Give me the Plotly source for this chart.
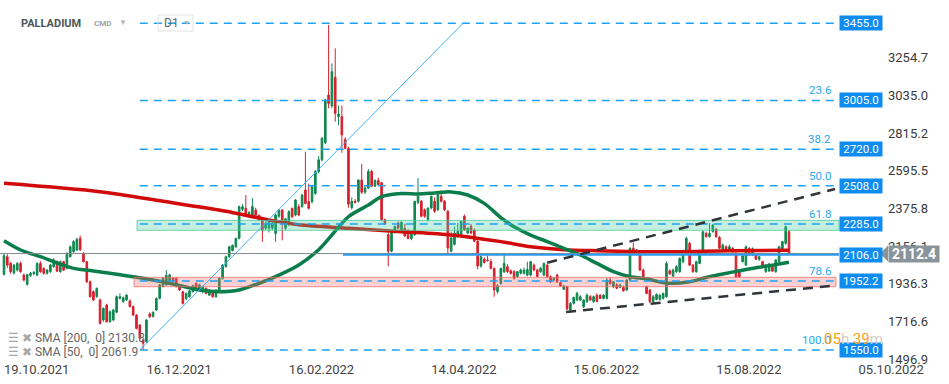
import plotly.graph_objects as go

# ---------------- data ----------------
opens = [1991,2094,2055,2000,2016,2055,1987,1933,1985,1995,
         1987,2055,2026,1997,2007,2036,2065,2007,2065,2026,
         2094,2123,2133,2201,2114,2065,1948,1890,1861,1842,
         1725,1812,1715,1725,1770,1850,1832,1842,1836,1803,
         1754,1696,1608,1598,1760,1745,1783,1851,1920,1930,
         1940,1968,1968,1930,1890,1850,1860,1890,1938,1900,
         1890,1910,1870,1890,1860,1890,1968,2036,2094,2130,
         2152,2201,2370,2376,2345,2336,2366,2336,2308,2260,
         2260,2260,2230,2330,2366,2260,2280,2376,2337,2386,
         2386,2483,2415,2415,2463,2590,2659,2759,3037,2973,
         3140,2911,2911,2778,2726,2380,2417,2417,2541,2470,
         2494,2591,2505,2538,2525,2310,2223,2126,2240,2290,
         2250,2260,2230,2200,2223,2410,2417,2368,2310,2378,
         2417,2368,2446,2417,2359,2126,2165,2213,2223,2330,
         2232,2271,2250,2184,2040,2080,2075,2065,2026,1890,
         1938,2005,2036,2012,2007,1978,1997,1997,1987,1987,
         2045,2016,2007,1987,2045,1978,1958,1987,1943,1904,
         1919,1783,1822,1841,1841,1802,1832,1861,1832,1870,
         1870,1851,1851,1958,1919,1929,1915,1915,1900,1958,
         2143,2124,2124,2016,1919,1900,1832,1845,1845,1851,
         1861,2012,1981,2007,2007,2065,2117,2172,2045,2007,
         2055,2123,2230,2211,2240,2253,2207,2137,2152,2137,
         2143,2113,2007,2065,2045,2143,2104,2104,2079,2065,
         2007,2010,2040,2007,2065,2133,2172,2240]
highs = [2110,2108,2065,2052,2062,2066,1995,1995,2005,2010,
         2062,2068,2032,2022,2052,2085,2072,2072,2070,2120,
         2160,2190,2205,2217,2120,2070,1955,1898,1915,1850,
         1798,1820,1780,1790,1868,1880,1862,1876,1845,1810,
         1760,1700,1615,1730,1770,1775,1856,1935,1975,2016,
         1995,1975,1972,1935,1895,1885,1900,1930,1945,1935,
         1925,1915,1905,1895,1905,1975,2050,2100,2158,2165,
         2205,2392,2400,2454,2360,2435,2380,2340,2312,2300,
         2305,2300,2345,2370,2372,2320,2365,2380,2430,2400,
         2460,2706,2520,2510,2600,2680,2790,3015,3445,3221,
         3309,2975,2975,2790,2735,2440,2430,2545,2634,2510,
         2605,2600,2545,2555,2530,2315,2235,2250,2275,2300,
         2300,2285,2255,2240,2420,2552,2425,2375,2380,2450,
         2440,2470,2480,2425,2365,2240,2270,2290,2305,2340,
         2262,2285,2258,2190,2100,2090,2100,2080,2030,1935,
         2030,2113,2050,2020,2015,2010,2025,2030,2065,2070,
         2055,2025,2035,2060,2052,1985,1975,1995,1950,1930,
         1925,1830,1860,1890,1870,1845,1880,1870,1868,1880,
         1875,1875,1970,1975,1950,1940,1935,1925,1965,2150,
         2176,2140,2130,2025,1925,1905,1870,1880,1875,1885,
         2065,2020,2025,2045,2090,2130,2210,2180,2050,2070,
         2130,2245,2240,2289,2285,2262,2215,2170,2160,2165,
         2150,2120,2015,2105,2160,2150,2148,2110,2098,2070,
         2050,2058,2048,2080,2158,2185,2275,2250]
lows = [1985,2030,1995,1990,2008,2000,1950,1925,1975,1985,
        1980,2000,1990,1990,2000,2030,2005,2000,2010,2020,
        2090,2118,2128,2128,2060,1940,1855,1835,1855,1699,
        1715,1710,1708,1720,1765,1845,1825,1836,1798,1748,
        1670,1612,1550,1592,1735,1740,1778,1845,1915,1925,
        1935,1940,1915,1895,1815,1840,1855,1885,1895,1895,
        1880,1875,1865,1855,1855,1885,1960,2030,2088,2125,
        2145,2195,2360,2340,2335,2330,2330,2305,2181,2250,
        2235,2250,2181,2320,2190,2250,2275,2320,2330,2330,
        2380,2400,2370,2405,2455,2580,2650,2750,2960,2960,
        2881,2860,2700,2720,2380,2370,2405,2410,2460,2460,
        2490,2500,2500,2510,2300,2280,2038,2120,2230,2255,
        2240,2210,2195,2190,2215,2400,2325,2320,2300,2370,
        2350,2360,2410,2360,2110,2120,2160,2205,2215,2245,
        2225,2225,2180,2020,2030,2055,2065,2020,1861,1880,
        1930,2000,2000,1990,1960,1970,1990,1990,1980,1980,
        2010,1975,2000,1980,1970,1940,1950,1940,1920,1900,
        1783,1775,1815,1835,1835,1795,1825,1840,1825,1830,
        1850,1845,1845,1930,1910,1905,1910,1890,1895,1950,
        2120,2115,2010,1975,1875,1822,1825,1840,1838,1845,
        1855,1990,1975,2000,2000,2055,2110,2040,2000,2000,
        2050,2118,2205,2205,2235,2205,2140,2130,2128,2130,
        2118,1970,1970,2060,2040,2100,2100,2075,2070,2030,
        2000,2005,2005,2000,2060,2128,2165,2105]
closes = [2100,2045,2007,2045,2055,2007,1958,1990,1997,2003,
          2055,2007,1997,2016,2045,2075,2010,2065,2016,2114,
          2152,2182,2195,2135,2065,1948,1861,1842,1909,1705,
          1793,1715,1773,1783,1861,1861,1855,1870,1803,1754,
          1676,1618,1589,1725,1745,1770,1851,1929,1968,1985,
          1988,1950,1920,1900,1822,1880,1895,1925,1900,1930,
          1920,1880,1900,1860,1900,1968,2046,2094,2152,2160,
          2201,2386,2386,2345,2352,2386,2336,2308,2250,2290,
          2300,2290,2337,2365,2308,2315,2356,2327,2425,2337,
          2454,2405,2376,2502,2590,2659,2785,3008,2988,3173,
          2930,2926,2804,2726,2400,2417,2410,2541,2470,2495,
          2591,2505,2538,2515,2310,2285,2126,2240,2270,2260,
          2295,2215,2200,2232,2417,2446,2330,2330,2378,2446,
          2359,2456,2417,2368,2145,2203,2232,2242,2300,2252,
          2261,2232,2184,2040,2094,2060,2072,2026,1900,1925,
          2026,2055,2007,1997,1968,2007,2016,2016,2020,2065,
          2016,1978,2026,2055,1978,1948,1968,1948,1923,1923,
          1790,1822,1857,1880,1861,1841,1870,1841,1861,1832,
          1851,1870,1958,1938,1948,1910,1929,1895,1958,2143,
          2133,2133,2016,1978,1880,1832,1861,1874,1870,1880,
          2055,1993,2016,2036,2084,2123,2201,2045,2007,2065,
          2123,2240,2211,2230,2279,2211,2143,2162,2133,2152,
          2123,1977,1977,2098,2152,2104,2140,2079,2094,2036,
          2045,2052,2010,2075,2152,2182,2269,2112.4]

sma200_idx = [0, 29, 48, 67, 77, 89, 104, 120, 135, 150, 159, 169, 179, 199, 219, 237]
sma200_val = [2522, 2473, 2417, 2359, 2320, 2280, 2260, 2240, 2221, 2182, 2152, 2135, 2129, 2123, 2129, 2131]
sma50_idx = [0, 5, 11, 17, 21, 26, 32, 39, 49, 59, 65, 71, 77, 83, 89, 95, 104, 110, 114, 120,
             125, 130, 135, 140, 145, 150, 154, 159, 164, 169, 174, 179, 184, 189, 194, 200, 207,
             212, 217, 222, 227, 232, 237]
sma50_val = [2187, 2133, 2094, 2051, 2026, 2013, 1997, 1977, 1943, 1900, 1890, 1900, 1939, 1987,
             2046, 2135, 2327, 2395, 2444, 2463, 2460, 2466, 2472, 2454, 2405, 2322, 2269, 2220,
             2182, 2143, 2104, 2055, 2007, 1977, 1965, 1940, 1948, 1973, 1993, 2012, 2030, 2045, 2062]

x_tick_idx = [0, 43, 86, 129, 172, 215, 258]
x_tick_text = ["19.10.2021", "16.12.2021", "16.02.2022", "14.04.2022", "15.06.2022", "15.08.2022", "05.10.2022"]
y_tick_vals = [3254.7, 3035.0, 2815.2, 2595.5, 2375.8, 2156.1, 1936.3, 1716.6, 1496.9]

fib_levels = [3455.0, 3005.0, 2720.0, 2508.0, 2285.0, 1952.2, 1550.0]
fib_labels = ["", "23.6", "38.2", "50.0", "61.8", "78.6", "100.0"]
fib_start_bar = 41
fib_diag_end_bar = 138.6

zone_green = (2248, 2306)
zone_red = (1919, 1974)
last_price = 2112.4
level_blue = 2106.0
trend_upper = [(164, 2059), (250.9, 2489)]
trend_lower = [(169.7, 1772), (249.4, 1923)]
sma200_last = 2130.8
sma50_last = 2061.9

# ---------------- layout helpers ----------------
W, H = 949, 384
PLOT_BOTTOM = 360
PX_PER_BAR = 785 / 237
X0 = -4 / PX_PER_BAR
X1 = X0 + W / PX_PER_BAR
Y_TOP = 3455 + 23.3 / 0.1715
Y_BOT = 3455 - (PLOT_BOTTOM - 23.3) / 0.1715


def bx(px):
    return X0 + px / PX_PER_BAR


def pxp(x):
    return x / W


def pyp(y):
    return 1 - y / PLOT_BOTTOM


XR = bx(839)
FONT = "Roboto, Arial, sans-serif"

fig = go.Figure()
fig.add_trace(go.Candlestick(
    x=list(range(len(opens))), open=opens, high=highs, low=lows, close=closes,
    increasing=dict(line=dict(color="#10874f", width=1), fillcolor="#10874f"),
    decreasing=dict(line=dict(color="#d6202d", width=1), fillcolor="#d6202d"),
    whiskerwidth=0, hoverinfo="skip", showlegend=False))
fig.add_trace(go.Scatter(x=sma200_idx, y=sma200_val, mode="lines",
                         line=dict(color="#d10a0a", width=3.5, shape="spline", smoothing=0.8),
                         hoverinfo="skip", showlegend=False))
fig.add_trace(go.Scatter(x=sma50_idx, y=sma50_val, mode="lines",
                         line=dict(color="#0b7d4b", width=3.5, shape="spline", smoothing=0.8),
                         hoverinfo="skip", showlegend=False))

shapes = []
# zones
shapes.append(dict(type="rect", xref="x", yref="y", x0=bx(137), x1=XR, y0=zone_green[0], y1=zone_green[1],
                   fillcolor="rgba(70,205,160,0.32)", line=dict(color="rgba(70,200,150,0.75)", width=1), layer="above"))
shapes.append(dict(type="rect", xref="x", yref="y", x0=bx(134), x1=bx(836), y0=zone_red[0], y1=zone_red[1],
                   fillcolor="rgba(240,110,110,0.32)", line=dict(color="rgba(235,110,110,0.75)", width=1), layer="above"))
# current price line and blue level
shapes.append(dict(type="line", xref="x", yref="y", x0=X0, x1=XR, y0=last_price, y1=last_price,
                   line=dict(color="#7f8a90", width=1), layer="above"))
shapes.append(dict(type="line", xref="x", yref="y", x0=bx(343), x1=XR, y0=level_blue, y1=level_blue,
                   line=dict(color="#2b9af3", width=2), layer="above"))
# fib levels
for lvl in fib_levels:
    shapes.append(dict(type="line", xref="x", yref="y", x0=fib_start_bar, x1=XR, y0=lvl, y1=lvl,
                       line=dict(color="#1ea1f2", width=1.5, dash="8px,6px"), layer="above"))
# fib diagonal
shapes.append(dict(type="line", xref="x", yref="y", x0=fib_start_bar, x1=fib_diag_end_bar,
                   y0=fib_levels[-1], y1=fib_levels[0], line=dict(color="#3bb0f5", width=1), layer="above"))
# trendlines
for (a, b) in (trend_upper, trend_lower):
    shapes.append(dict(type="line", xref="x", yref="y", x0=a[0], y0=a[1], x1=b[0], y1=b[1],
                       line=dict(color="#2f353a", width=2.5, dash="10px,7px"), layer="above"))
# D1 box
shapes.append(dict(type="rect", xref="paper", yref="paper", x0=pxp(158), x1=pxp(193), y0=pyp(31), y1=pyp(15),
                   line=dict(color="#e2e2e2", width=1), fillcolor="rgba(0,0,0,0)", layer="above"))
# current price arrow
dp = 8 / 0.1715
shapes.append(dict(type="path", xref="paper", yref="y",
                   path=f"M {pxp(880)},{last_price} L {pxp(888)},{last_price + dp} L {pxp(888)},{last_price - dp} Z",
                   fillcolor="#89939a", line=dict(width=0), layer="above"))

ann = []
for lvl, lab in zip(fib_levels, fib_labels):
    ann.append(dict(xref="paper", yref="y", x=pxp(839), y=lvl, xanchor="left", yanchor="middle",
                    text=f"{lvl:.1f}", showarrow=False, bgcolor="#0e8cf1", width=40, height=12, borderpad=1,
                    font=dict(family=FONT, size=11.5, color="white")))
    if lab:
        ann.append(dict(xref="paper", yref="y", x=pxp(833), y=lvl, xanchor="right", yanchor="bottom",
                        yshift=1, text=lab, showarrow=False,
                        font=dict(family=FONT, size=11.5, color="#2aa6f0")))
ann.append(dict(xref="paper", yref="y", x=pxp(839), y=level_blue, xanchor="left", yanchor="middle",
                text=f"{level_blue:.1f}", showarrow=False, bgcolor="#0e8cf1", width=40, height=12, borderpad=1,
                font=dict(family=FONT, size=11.5, color="white")))
ann.append(dict(xref="paper", yref="y", x=pxp(888), y=last_price, xanchor="left", yanchor="middle",
                text=f"<b>{last_price:.1f}</b>", showarrow=False, bgcolor="#89939a", width=48, height=14,
                borderpad=1, font=dict(family=FONT, size=14, color="white")))
# title
ann.append(dict(xref="paper", yref="paper", x=pxp(19), y=pyp(23), xanchor="left", yanchor="middle",
                text="<b>PALLADIUM</b>", showarrow=False, font=dict(family=FONT, size=11, color="#4d555c")))
ann.append(dict(xref="paper", yref="paper", x=pxp(92), y=pyp(24), xanchor="left", yanchor="middle",
                text="<b>CMD</b>", showarrow=False, font=dict(family=FONT, size=8, color="#9aa3aa")))
ann.append(dict(xref="paper", yref="paper", x=pxp(117), y=pyp(22), xanchor="left", yanchor="middle",
                text="▼", showarrow=False, font=dict(family=FONT, size=8, color="#b5b5b5")))
ann.append(dict(xref="paper", yref="paper", x=pxp(162), y=pyp(23), xanchor="left", yanchor="middle",
                text="D1", showarrow=False, font=dict(family=FONT, size=12, color="#666")))
ann.append(dict(xref="paper", yref="paper", x=pxp(181), y=pyp(23), xanchor="left", yanchor="middle",
                text="▼", showarrow=False, font=dict(family=FONT, size=7, color="#b5b5b5")))
# legend-like labels
ann.append(dict(xref="paper", yref="paper", x=pxp(6), y=pyp(338), xanchor="left", yanchor="middle",
                text=f"<span style='color:#a8a8a8'>☰ ✖</span> SMA [200,  0] {sma200_last}",
                showarrow=False, font=dict(family=FONT, size=12, color="#666")))
ann.append(dict(xref="paper", yref="paper", x=pxp(6), y=pyp(352), xanchor="left", yanchor="middle",
                text=f"<span style='color:#a8a8a8'>☰ ✖</span> SMA [50,  0] {sma50_last}",
                showarrow=False, font=dict(family=FONT, size=12, color="#666")))
# timer
ann.append(dict(xref="paper", yref="paper", x=pxp(822), y=pyp(339), xanchor="left", yanchor="middle",
                text="<span style='color:#f7a11a'>05</span><span style='color:#d6cdc4'>h </span>"
                     "<span style='color:#f7a11a'>39</span><span style='color:#d6cdc4'>m</span>",
                showarrow=False, font=dict(family=FONT, size=15)))

fig.update_layout(
    width=W, height=H, margin=dict(l=0, r=0, t=0, b=H - PLOT_BOTTOM, pad=0),
    paper_bgcolor="white", plot_bgcolor="white", showlegend=False,
    shapes=shapes, annotations=ann, hovermode=False,
    xaxis=dict(domain=[0, 1], range=[X0, X1], tickvals=x_tick_idx, ticktext=x_tick_text,
               ticks="", showgrid=False, zeroline=False, showline=False,
               ticklabelposition="outside right", tickfont=dict(family=FONT, size=13, color="#444"),
               rangeslider=dict(visible=False), automargin=False, fixedrange=True),
    yaxis=dict(anchor="free", position=pxp(839), side="right", range=[Y_BOT, Y_TOP],
               tickvals=y_tick_vals, ticktext=[f"{v:.1f}" for v in y_tick_vals],
               ticks="", showgrid=False, zeroline=False, showline=False, ticklabelstandoff=48,
               tickfont=dict(family=FONT, size=13, color="#3a3a3a"), automargin=False, fixedrange=True),
)
fig.write_html("out.html", config={"displayModeBar": False},
               post_script="document.body.style.margin='0';document.body.style.overflow='hidden';")
